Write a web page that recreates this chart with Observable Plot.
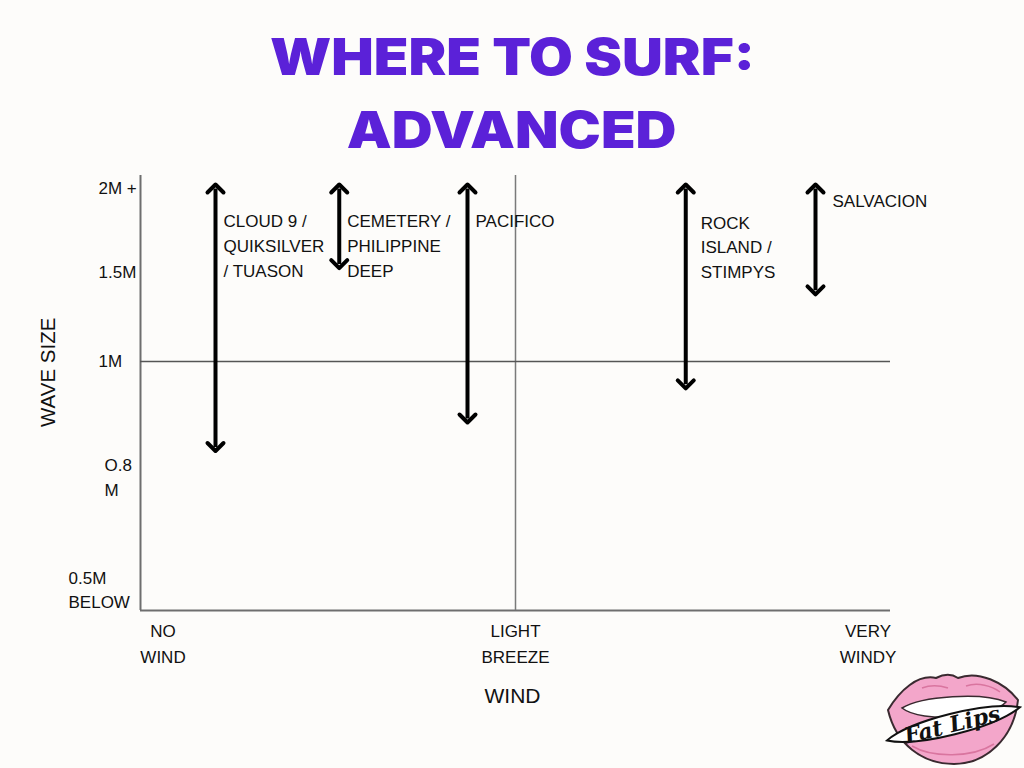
<!DOCTYPE html>
<html>
<head>
<meta charset="utf-8">
<script src="https://cdn.jsdelivr.net/npm/d3@7"></script>
<script src="https://cdn.jsdelivr.net/npm/@observablehq/plot@0.6"></script>
<style>
html, body { margin: 0; padding: 0; background: #fdfcfa; }
#wrap { position: relative; width: 1024px; height: 768px; overflow: hidden; background: #fdfcfa; }
#title { position: absolute; left: 0; top: 20px; width: 1024px; text-align: center;
  font-family: Inter, "DejaVu Sans", sans-serif; font-weight: 900; color: #5b21d8;
  font-size: 51px; line-height: 73px; margin: 0; }
#title span { display: inline-block; transform: scaleX(1.11); transform-origin: center; }
#chart { position: absolute; left: 0; top: 0; }
#logo { position: absolute; left: 882px; top: 668px; }
</style>
</head>
<body>
<div id="wrap">
  <div id="chart"></div>
  <h1 id="title"><span>WHERE TO SURF:</span><br><span>ADVANCED</span></h1>
  <svg id="logo" width="142" height="100" viewBox="0 0 142 100">
    <path d="M6,42 C18,22 36,6 54,10 C62,6 70,6 76,10 C96,2 122,14 136,32 C132,70 104,96 72,96 C40,96 14,76 6,42 Z"
      fill="#f3a6ca" stroke="#3a2a30" stroke-width="2"/>
    <path d="M20,40 C40,28 100,24 124,34 C110,50 40,56 20,40 Z" fill="#fff" stroke="#3a2a30" stroke-width="1.5"/>
    <path d="M40,20 C50,16 60,18 66,20 M84,18 C96,14 110,18 118,24 M30,78 C50,90 90,90 112,76" fill="none" stroke="#d9759f" stroke-width="1.5"/>
    <g transform="rotate(-14 71 56)">
      <path d="M3,56 C30,42 110,42 140,56 C110,70 30,70 3,56 Z" fill="#fff" stroke="#111" stroke-width="2"/>
      <text x="70" y="64" text-anchor="middle" font-family="DejaVu Serif" font-style="italic" font-weight="bold" font-size="22" fill="#111">Fat Lips</text>
    </g>
  </svg>
</div>
<script>
// ---- data ----
const spotNames = ["CLOUD 9 /\nQUIKSILVER\n/ TUASON", "CEMETERY /\nPHILIPPINE\nDEEP", "PACIFICO", "ROCK\nISLAND /\nSTIMPYS", "SALVACION"];
const spotWind = [10, 26.5, 43.6, 72.7, 90];       // 0 = no wind, 50 = light breeze, 100 = very windy
const spotWaveMin = [0.85, 1.55, 0.9, 0.96, 1.4];  // metres
const spotWaveMax = [2, 2, 2, 2, 2];
const windTicks = [3, 50, 97];
const windTickLabels = ["NO\nWIND", "LIGHT\nBREEZE", "VERY\nWINDY"];
const waveTicks = [2, 1.5, 1, 0.8, 0.5];
const waveTickLabels = ["2M +", "1.5M", "1M", "O.8\nM", "0.5M\nBELOW"];
const windDivider = [50];
const waveDivider = [1];
const waveFloor = [0.3];

// non-linear wave-size axis of the original (metres -> relative axis level)
const waveAxisStops = [0.3, 0.5, 0.8, 1, 1.5, 2, 2.13];
const waveAxisLevels = [0, 22, 135, 249, 338, 422, 435];
const waveAxis = d3.scaleLinear().domain(waveAxisStops).range(waveAxisLevels);

const spots = spotNames.map((name, i) => ({name, wind: spotWind[i], lo: spotWaveMin[i], hi: spotWaveMax[i]}));
const waveLabel = d => waveTickLabels[waveTicks.indexOf(d)];
const windLabel = d => windTickLabels[windTicks.indexOf(d)];

const font = "Liberation Sans, Arial, sans-serif";
const tickText = {y: d => d, text: waveLabel, frameAnchor: "left", textAnchor: "start", fontSize: 17, fill: "#111"};
const chart = Plot.plot({
  width: 1024,
  height: 768,
  marginLeft: 140,
  marginRight: 134,
  marginTop: 175,
  marginBottom: 158,
  style: {background: "transparent", fontFamily: font, color: "#111"},
  x: {domain: [0, 100]},
  y: {transform: waveAxis, domain: [0, 435], axis: null},
  marks: [
    Plot.ruleX([0], {stroke: "#6e6e6e", strokeWidth: 2}),
    Plot.ruleY(waveFloor, {stroke: "#6e6e6e", strokeWidth: 2}),
    Plot.ruleX(windDivider, {stroke: "#7a7a7a", strokeWidth: 1.5}),
    Plot.ruleY(waveDivider, {stroke: "#555", strokeWidth: 1.5}),
    Plot.text(waveTicks.slice(0, 3), {...tickText, dx: -42}),
    Plot.text(waveTicks.slice(3, 4), {...tickText, dx: -36, lineHeight: 25/17}),
    Plot.text(waveTicks.slice(4), {...tickText, dx: -72, lineHeight: 24/17}),
    Plot.axisX({ticks: windTicks, tickFormat: windLabel, tickSize: 0, tickPadding: 8, fontSize: 17, lineHeight: 26/17, label: null}),
    Plot.text(["WIND"], {frameAnchor: "bottom", dx: -3, dy: 92, fontSize: 21, fill: "#111"}),
    Plot.text(["WAVE SIZE"], {frameAnchor: "left", rotate: -90, dx: -92, dy: 34, fontSize: 20.5, fill: "#111"}),
    Plot.link(spots, {x1: "wind", x2: "wind", y1: "lo", y2: "hi", stroke: "#000", strokeWidth: 4, markerStart: "arrow-reverse", markerEnd: "arrow"}),
    Plot.text(spots.filter(d => d.name !== "SALVACION" && !d.name.startsWith("ROCK")), {x: "wind", y: "hi", text: "name", textAnchor: "start", lineAnchor: "top", dx: 8, dy: 21, fontSize: 17, lineHeight: 25/17, fill: "#111"}),
    Plot.text(spots.filter(d => d.name.startsWith("ROCK")), {x: "wind", y: "hi", text: "name", textAnchor: "start", lineAnchor: "top", dx: 15, dy: 23, fontSize: 17, lineHeight: 24.5/17, fill: "#111"}),
    Plot.text(spots.filter(d => d.name === "SALVACION"), {x: "wind", y: "hi", text: "name", textAnchor: "start", lineAnchor: "top", dx: 17, dy: 6, fontSize: 17, fill: "#111"})
  ]
});
document.getElementById("chart").appendChild(chart);
</script>
</body>
</html>
